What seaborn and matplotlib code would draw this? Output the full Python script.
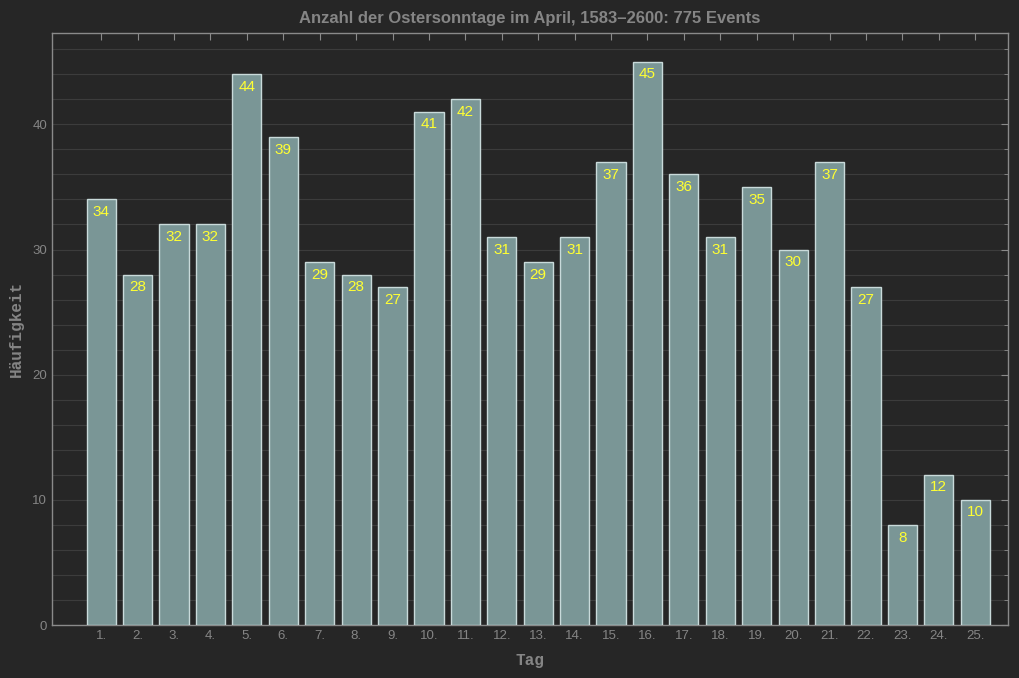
import numpy as np
import pandas as pd
import seaborn as sns
import matplotlib.pyplot as plt
from matplotlib.ticker import MultipleLocator

# Easter Sundays in April per day
tage = [f"{i}." for i in range(1, 26)]
anzahl = [34, 28, 32, 32, 44, 39, 29, 28, 27, 41, 42, 31, 29, 31, 37,
          45, 36, 31, 35, 30, 37, 27, 8, 12, 10]

df = pd.DataFrame({"Tag": tage, "Anzahl": anzahl})

sns.set_style("dark")
bg = "#262626"
txt = "#858585"
plt.rcParams["font.family"] = ["Liberation Sans", "DejaVu Sans"]

fig = plt.figure(figsize=(10.2, 6.78), dpi=100, facecolor=bg)
ax = fig.add_axes([52 / 1020, 53 / 678, 956 / 1020, 592 / 678])
ax.set_facecolor(bg)

sns.barplot(data=df, x="Tag", y="Anzahl", color="#7a9696", saturation=1,
            width=0.8, edgecolor="#c9dada", linewidth=1.0, ax=ax, zorder=3)

for p, v in zip(ax.patches, anzahl):
    ax.text(p.get_x() + p.get_width() / 2, v - 0.45, str(v), ha="center",
            va="top", color="#ffff33", fontsize=11, zorder=4)

ax.set_xlim(-1.35, 24.9)
ax.set_ylim(0, 47.3)
ax.yaxis.set_major_locator(MultipleLocator(10))
ax.yaxis.set_minor_locator(MultipleLocator(2))
ax.grid(True, which="both", axis="y", color="#3c3c3c", linewidth=0.8, zorder=0)
ax.grid(False, axis="x")

ax.tick_params(axis="both", which="both", direction="in", colors="#8a8a8a",
               labelcolor=txt, labelsize=9.5, top=True, right=True)
ax.tick_params(which="major", length=5)
ax.tick_params(which="minor", length=3)

for s in ax.spines.values():
    s.set_color("#8a8a8a")
    s.set_linewidth(1)

ax.set_title("Anzahl der Ostersonntage im April, 1583\u20132600: 775 Events",
             color=txt, fontsize=12, fontweight="bold", pad=7)
ax.set_xlabel("Tag", color=txt, fontsize=11.5, fontweight="bold",
              family=["Liberation Mono", "DejaVu Sans Mono"], labelpad=8)
ax.set_ylabel("H\u00e4ufigkeit", color=txt, fontsize=11.5, fontweight="bold",
              family=["Liberation Mono", "DejaVu Sans Mono"], labelpad=6)

fig.savefig("out.png", dpi=100, facecolor=bg)
